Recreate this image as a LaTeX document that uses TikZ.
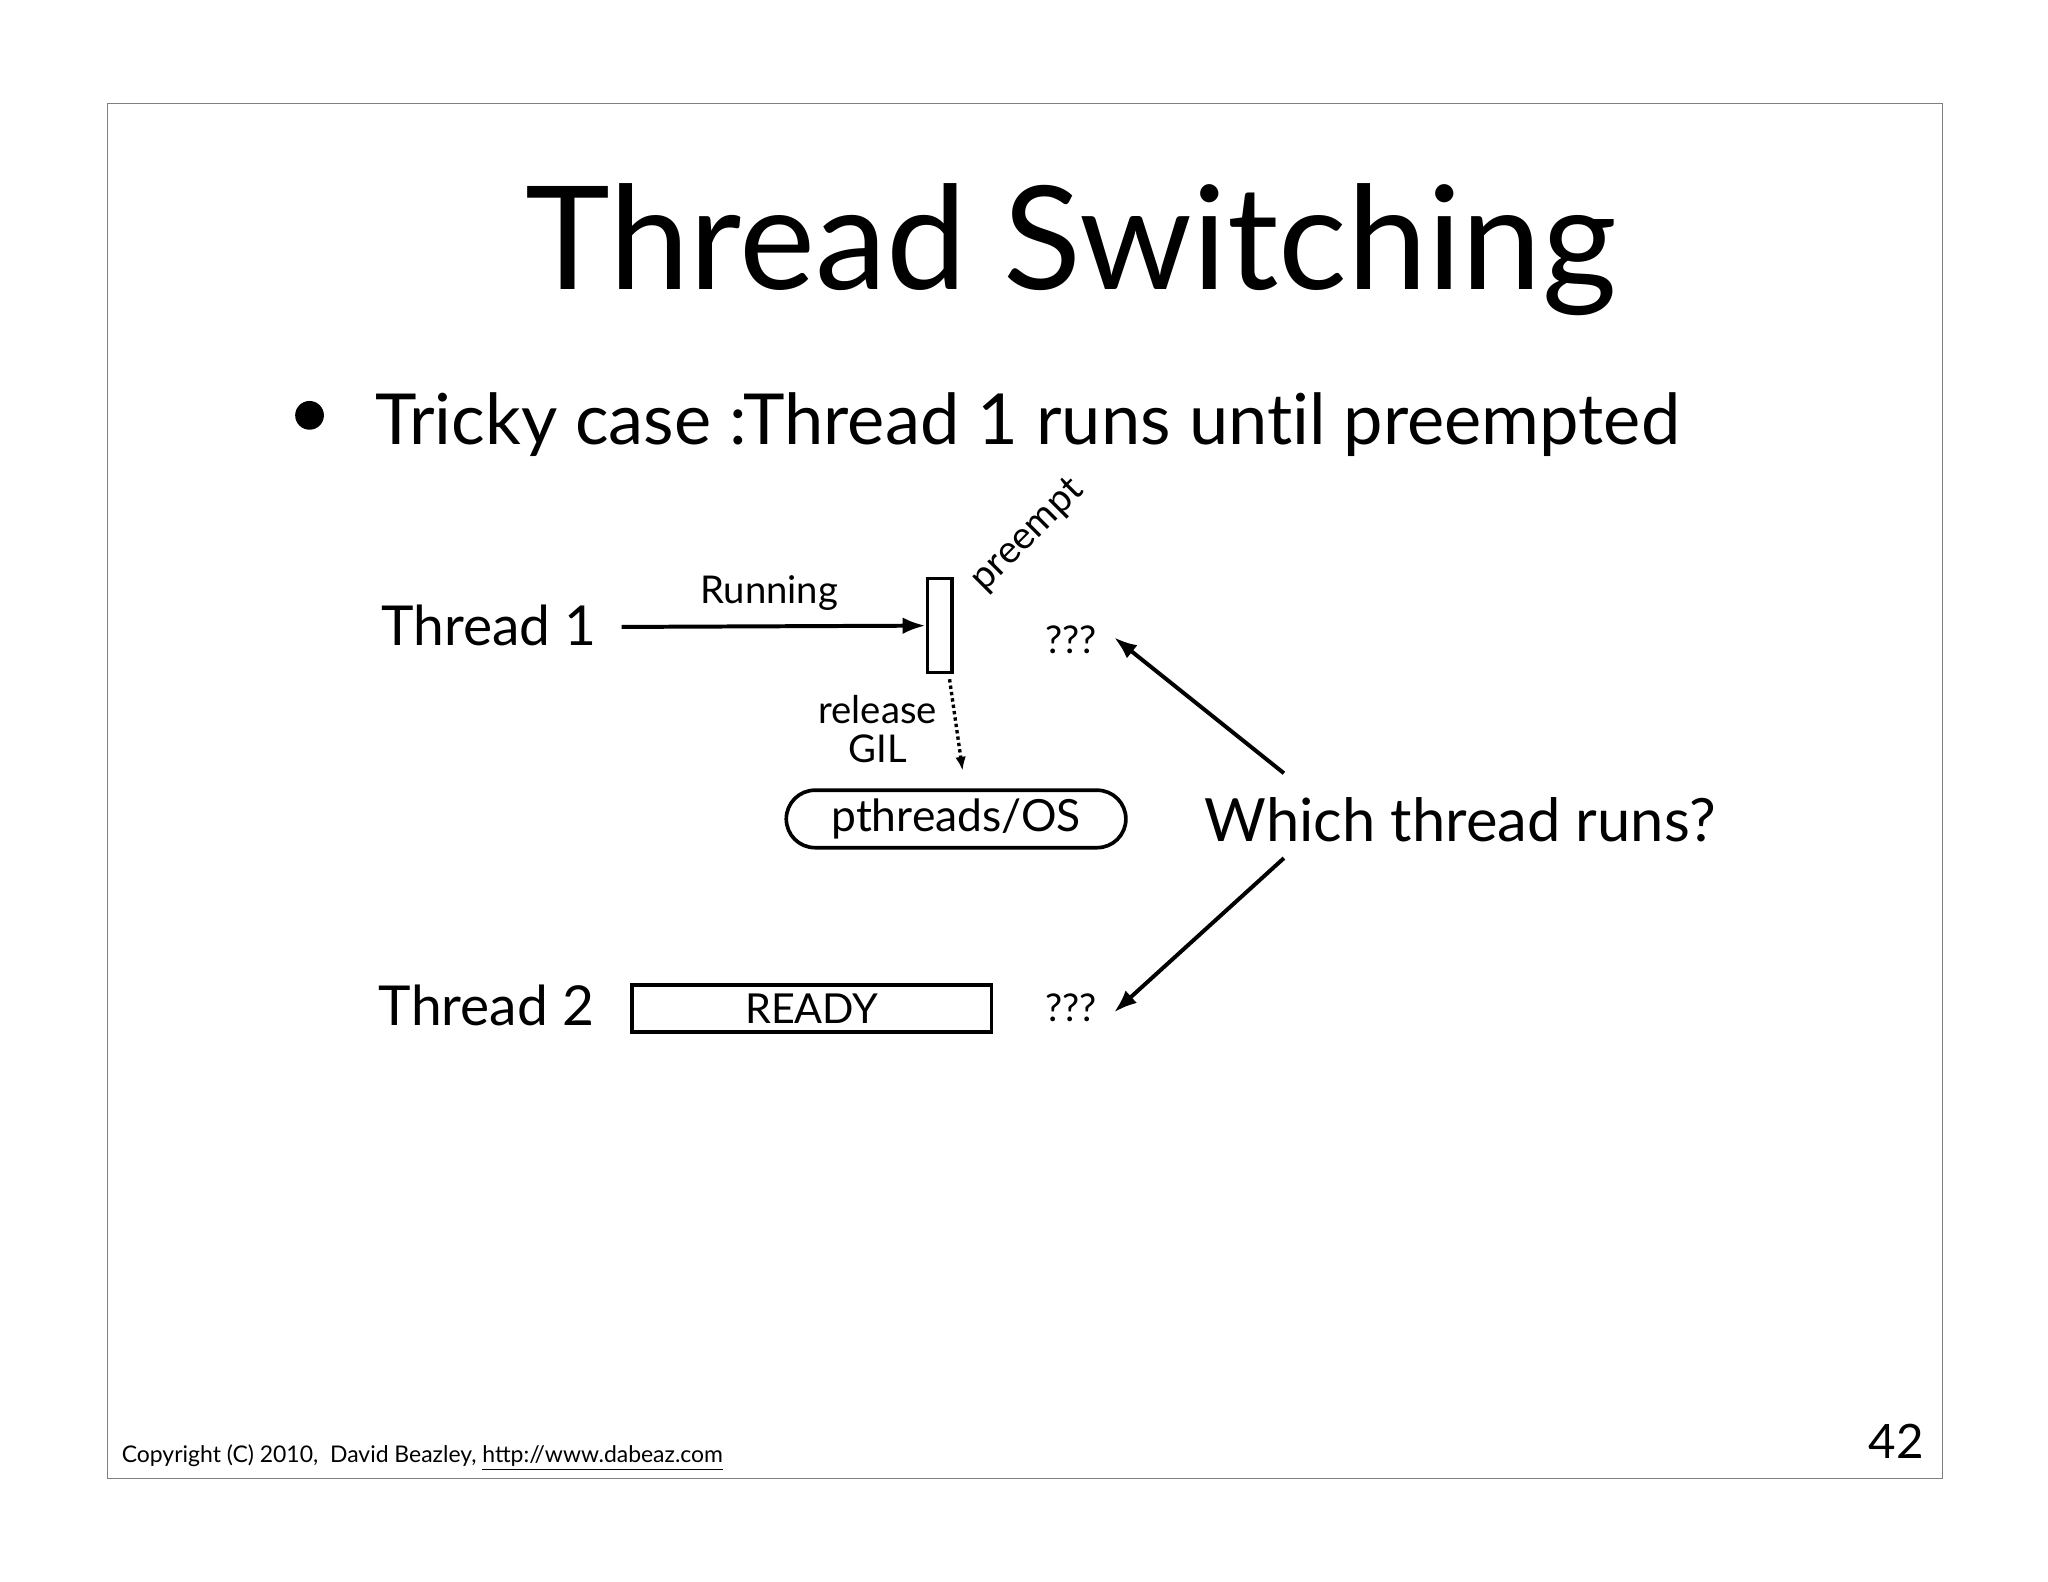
\documentclass[tikz,border=0pt]{standalone}
\usepackage{fontspec}
\setmainfont{Lato}
\usetikzlibrary{arrows.meta}
\newcommand{\fs}[1]{\fontsize{#1}{#1}\selectfont}
\tikzset{lbl/.style={inner sep=0pt},
 arr/.style={line width=2.6pt,-{Latex[length=15pt,width=11pt]}},
 boxline/.style={draw,line width=2.4pt}}
\begin{document}
\begin{tikzpicture}[x=0.03cm,y=0.03cm]
\useasboundingbox[fill=white] (0,0) rectangle (1568,-1211);
\draw[line width=0.6pt,gray] (82,-79) rectangle (1487,-1132);
\node[lbl,anchor=base] (title) at (820,-222) {\fs{94}Thread Switching};
\fill (237,-318) circle (11);
\node[lbl,anchor=base west] (bullet) at (287,-340) {\fs{46}Tricky case :Thread 1 runs unt\kern0pt il preempted};
\node[lbl,anchor=base east] (t1) at (457,-494) {\fs{36}Thread 1};
\node[lbl,boxline,minimum width=19*0.03cm,minimum height=72*0.03cm] (pre) at (719.5,-479) {};
\draw[arr] (476,-480) -- (pre.west);
\node[lbl,anchor=base] (run) at (589,-462) {\fs{25}Running};
\node[lbl,rotate=45] (pe) at (787,-410) {\fs{25}preempt};
\node[lbl,anchor=base] (q1) at (820,-500) {\fs{25}???};
\node[lbl,align=center] (rel) at (672,-558) {\fs{25}release\\[6pt]\fs{25}GIL};
\node[lbl,boxline,rounded corners=22*0.03cm,minimum width=260*0.03cm,minimum height=44*0.03cm] (os) at (732,-627) {\fs{29}pthreads/OS};
\coordinate (d1) at (727,-520);
\coordinate (d2) at (737,-590);
\draw[line width=2.2pt,dotted,-{Latex[length=9pt,width=7pt]}] (d1) -- (d2);
\node[lbl] (which) at (1118,-628) {\fs{39}Which thread runs?};
\node[lbl,anchor=base east] (t2) at (455,-785) {\fs{36}Thread 2};
\node[lbl,boxline,minimum width=275*0.03cm,minimum height=36*0.03cm] (ready) at (621.5,-772) {\fs{27}READY};
\node[lbl,anchor=base] (q2) at (820,-782) {\fs{25}???};
\coordinate (w1) at (983,-592);
\coordinate (w2) at (983,-657);
\draw[arr] (w1) -- (853,-488);
\draw[arr] (w2) -- (853,-775);
\node[lbl,anchor=base west] (copy) at (93,-1120) {\fs{15}Copyright (C) 2010,\ \ David Beazley, \underline{htt\kern0pt p://www.dabeaz.com}};
\node[lbl,anchor=base east] (num) at (1473,-1117) {\fs{31}42};
\end{tikzpicture}
\end{document}
